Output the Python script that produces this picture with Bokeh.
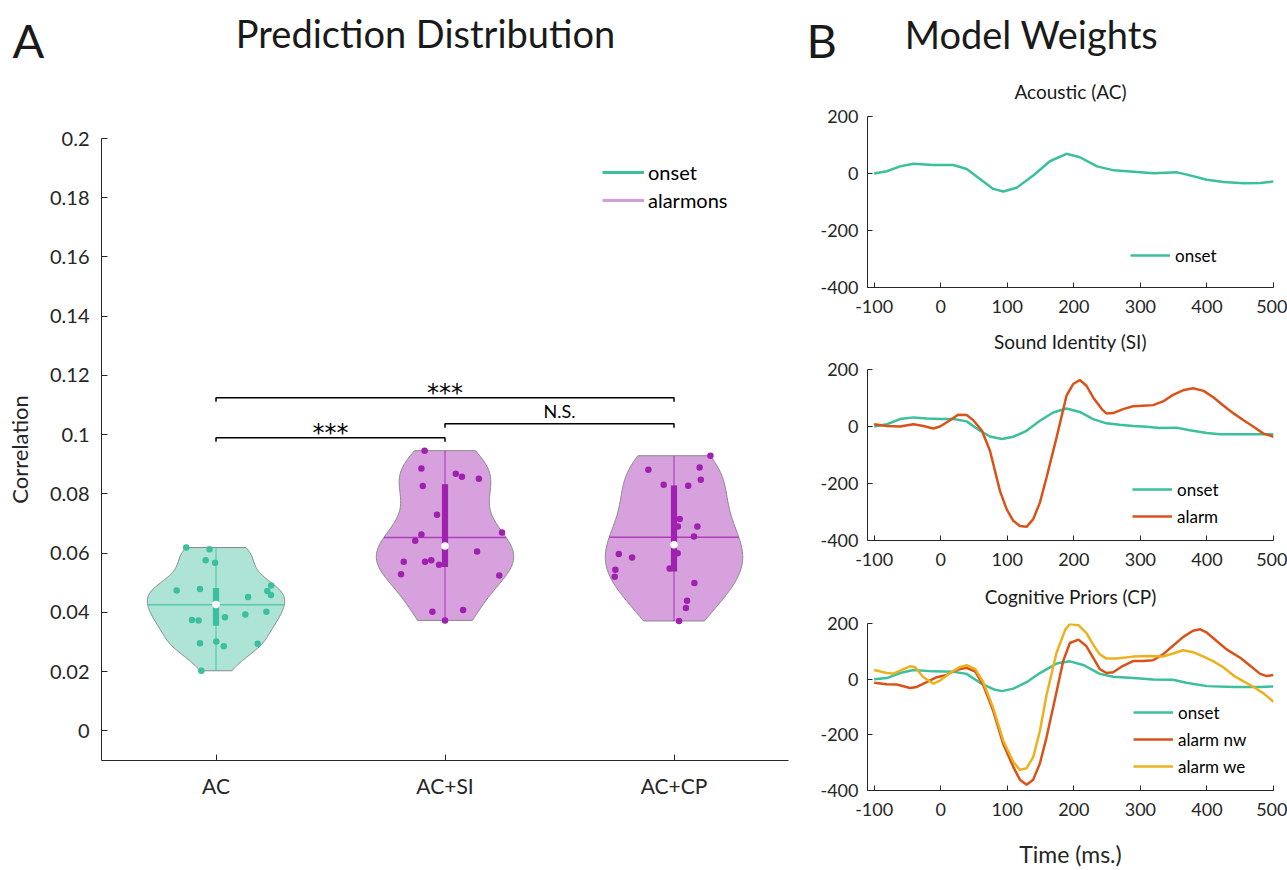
import numpy as np
from bokeh.plotting import figure
from bokeh.models import (Legend, LegendItem, FixedTicker, Range1d)
from bokeh.layouts import row, column
from bokeh.embed import file_html
from bokeh.resources import INLINE
from bokeh.core.properties import value

FONT = "Lato"
AXC = "#262626"
TXT = "#1a1a1a"
TEAL = "#3bbf9d"
PURPLE = "#a020b0"
LIGHT_PURPLE = "#d49ddc"
ORANGE = "#d95319"
YELLOW = "#edb120"

# ---------------- Panel A data ----------------
categories = ["AC", "AC+SI", "AC+CP"]
corr_ac = [0.0619, 0.0613, 0.0576, 0.0568, 0.0474, 0.0479, 0.0491, 0.0472, 0.0459, 0.0452,
           0.0402, 0.0393, 0.0384, 0.0374, 0.0373, 0.0296, 0.0302, 0.0286, 0.0294, 0.0203]
jit_ac = [-0.130, -0.028, -0.045, -0.004, -0.172, -0.070, 0.241, 0.224, 0.240, 0.140,
          0.220, 0.128, 0.039, -0.105, -0.076, -0.070, 0.001, 0.034, 0.182, -0.064]
corr_si = [0.0946, 0.0886, 0.0868, 0.0858, 0.0851, 0.0827, 0.0730, 0.0670, 0.0663, 0.0642,
           0.0606, 0.0571, 0.0571, 0.0576, 0.0561, 0.0529, 0.0525, 0.0402, 0.0408, 0.0373]
jit_si = [-0.089, -0.103, 0.047, 0.074, 0.148, -0.097, -0.035, 0.249, -0.103, -0.130,
          0.140, -0.180, -0.087, -0.060, -0.026, -0.192, 0.237, -0.055, 0.079, 0.000]
corr_cp = [0.0929, 0.0882, 0.0889, 0.0848, 0.0831, 0.0828, 0.0715, 0.0690, 0.0690, 0.0656,
           0.0597, 0.0585, 0.0600, 0.0544, 0.0520, 0.0548, 0.0499, 0.0439, 0.0415, 0.0371]
jit_cp = [0.159, -0.112, 0.112, 0.117, -0.045, 0.062, 0.025, 0.017, 0.102, 0.087,
          -0.241, -0.183, 0.016, -0.256, -0.259, -0.019, 0.089, 0.057, 0.052, 0.022]
violin_colors = [TEAL, PURPLE, PURPLE]

y_ticks = [0.0, 0.02, 0.04, 0.06, 0.08, 0.1, 0.12, 0.14, 0.16, 0.18, 0.2]
y_tick_labels = ["0", "0.02", "0.04", "0.06", "0.08", "0.1", "0.12", "0.14", "0.16", "0.18", "0.2"]

sig_from = [1, 2, 1]
sig_to = [2, 3, 3]
sig_level = [0.099, 0.1037, 0.1125]
sig_text = ["***", "N.S.", "***"]

legend_a_labels = ["onset", "alarmons"]
legend_a_colors = [TEAL, LIGHT_PURPLE]

# ---------------- Panel B data ----------------
panel_titles = ["Acoustic (AC)", "Sound Identity (SI)", "Cognitive Priors (CP)"]
time_ticks = [-100, 0, 100, 200, 300, 400, 500]
time_tick_labels = ["-100", "0", "100", "200", "300", "400", "500"]
w_ticks = [-400, -200, 0, 200]
w_tick_labels = ["-400", "-200", "0", "200"]

onset_ac_t = [-100, -81, -61, -41, -11, 19, 39, 59, 79, 94, 114, 139, 164, 189, 209, 235, 260,
              290, 320, 355, 370, 400, 425, 455, 480, 500]
onset_ac_w = [0, 8, 25, 34, 30, 30, 16, -19, -54, -63, -50, -7, 43, 69, 57, 25, 11, 6, 1, 4, -4,
              -22, -30, -34, -33, -28]

onset_si_t = [-100, -81, -61, -41, -21, -1, 19, 39, 59, 74, 92, 109, 129, 149, 169, 189, 209, 229,
              249, 269, 289, 309, 329, 354, 374, 400, 420, 450, 480, 500]
onset_si_w = [0, 8, 26, 32, 28, 26, 26, 18, -15, -35, -44, -36, -15, 20, 49, 63, 51, 26, 11, 6, 2,
              -1, -5, -4, -13, -23, -27, -27, -27, -27]
alarm_si_t = [-100, -81, -61, -41, -26, -11, -1, 14, 26, 39, 49, 62, 74, 89, 99, 109, 119, 129, 139,
              149, 159, 174, 189, 199, 209, 219, 229, 242, 249, 259, 274, 289, 304, 319, 334, 349,
              364, 379, 395, 410, 425, 440, 455, 470, 485, 500]
alarm_si_w = [8, 2, 0, 8, 2, -7, 0, 22, 41, 40, 22, -15, -85, -226, -290, -331, -349, -352, -325,
              -267, -179, -39, 108, 149, 163, 143, 102, 61, 46, 47, 61, 71, 73, 75, 88, 111, 127,
              134, 125, 102, 73, 46, 22, -1, -25, -36]

onset_cp_t = [-100, -81, -61, -41, -11, 19, 39, 59, 79, 92, 109, 129, 149, 174, 194, 214, 239, 259,
              289, 319, 349, 369, 400, 440, 480, 500]
onset_cp_w = [0, 4, 22, 33, 28, 27, 19, -13, -36, -43, -34, -11, 22, 56, 64, 51, 19, 9, 4, -1, -2,
              -13, -25, -28, -28, -26]
alarm_nw_t = [-100, -81, -66, -46, -36, -21, -6, 9, 24, 39, 52, 64, 79, 94, 109, 119, 129, 139, 149,
              159, 174, 184, 194, 207, 219, 229, 239, 249, 259, 274, 289, 304, 319, 334, 349, 364,
              379, 390, 400, 415, 430, 450, 465, 480, 490, 500]
alarm_nw_w = [-13, -18, -19, -32, -28, -11, 7, 15, 34, 41, 27, -22, -115, -233, -315, -361, -379,
              -361, -303, -209, -46, 65, 130, 142, 118, 77, 36, 22, 25, 48, 65, 65, 68, 89, 120, 151,
              174, 179, 167, 136, 106, 77, 48, 19, 11, 15]
alarm_we_t = [-100, -81, -71, -56, -46, -39, -26, -11, -1, 14, 29, 39, 52, 64, 79, 94, 109, 119, 129,
              139, 149, 159, 174, 187, 194, 207, 219, 229, 239, 249, 264, 289, 314, 334, 349, 364,
              379, 395, 410, 425, 440, 455, 470, 485, 500]
alarm_we_w = [33, 22, 20, 36, 46, 44, 7, -16, -5, 22, 44, 50, 36, -11, -104, -221, -297, -326, -320,
              -280, -186, -57, 95, 177, 198, 194, 165, 124, 89, 74, 74, 81, 83, 81, 92, 104, 97, 81,
              64, 42, 13, -8, -28, -51, -81]


def style_axes(p, tick_size, label_size):
    for ax in (p.xaxis[0], p.yaxis[0]):
        ax.axis_line_color = AXC
        ax.axis_line_width = 1
        ax.major_tick_line_color = AXC
        ax.major_tick_in = 6
        ax.major_tick_out = 0
        ax.minor_tick_line_color = None
        ax.major_label_text_font = FONT
        ax.major_label_text_font_size = tick_size
        ax.major_label_text_color = AXC
        ax.axis_label_text_font = FONT
        ax.axis_label_text_font_size = label_size
        ax.axis_label_text_color = AXC
        ax.axis_label_text_font_style = "normal"
    p.xgrid.grid_line_color = None
    p.ygrid.grid_line_color = None
    p.outline_line_color = None


def text_strip(width, height):
    s = figure(width=width, height=height, x_range=Range1d(0, width),
               y_range=Range1d(height, 0), output_backend="svg", toolbar_location=None,
               x_axis_location=None, y_axis_location=None, min_border=0, title=None)
    s.outline_line_color = None
    s.xgrid.grid_line_color = None
    s.ygrid.grid_line_color = None
    return s


def kde(data, grid):
    d = np.asarray(data, dtype=float)
    n = len(d)
    sig = np.median(np.abs(d - np.median(d))) / 0.6745
    bw = sig * (4.0 / (3.0 * n)) ** 0.2
    u = (grid[:, None] - d[None, :]) / bw
    return np.exp(-0.5 * u ** 2).sum(axis=1) / (n * bw * np.sqrt(2 * np.pi))


# ---------------- Header (panel letters and main titles) ----------------
HEAD_H = 72
head = text_strip(1287, HEAD_H)
head.text(x=[12, 806], y=[39, 39], text=["A", "B"], text_font=value(FONT),
          text_font_size="47px", text_color=TXT, text_baseline="middle")
head.text(x=[425, 1031], y=[32, 33], text=["Prediction Distribution", "Model Weights"],
          text_font=value(FONT), text_font_size="38px", text_color=TXT,
          text_baseline="middle", text_align="center")

# ---------------- Panel A figure ----------------
pa = figure(width=800, height=870 - HEAD_H, x_range=Range1d(0.5, 3.5),
            y_range=Range1d(-0.01, 0.2), output_backend="svg", toolbar_location=None,
            min_border_left=101, min_border_right=12, min_border_top=138 - HEAD_H,
            min_border_bottom=110)
style_axes(pa, "20px", "22px")
pa.xaxis.ticker = FixedTicker(ticks=[1, 2, 3])
pa.xaxis.major_label_overrides = {i + 1: c for i, c in enumerate(categories)}
pa.xaxis.major_label_text_font_size = "21px"
pa.xaxis.major_label_standoff = 12
pa.yaxis.ticker = FixedTicker(ticks=y_ticks)
pa.yaxis.major_label_overrides = dict(zip(y_ticks, y_tick_labels))
pa.yaxis.major_label_standoff = 12
pa.yaxis.axis_label = "Correlation"
pa.yaxis.axis_label_standoff = 14

for i, (vals, jit, col) in enumerate(zip([corr_ac, corr_si, corr_cp],
                                         [jit_ac, jit_si, jit_cp], violin_colors)):
    xc = i + 1
    v = np.asarray(vals)
    grid = np.linspace(v.min(), v.max(), 120)
    dens = kde(v, grid)
    hw = dens / dens.max() * 0.3
    xs = np.concatenate([xc - hw, (xc + hw)[::-1]])
    ys = np.concatenate([grid, grid[::-1]])
    pa.patch(xs, ys, fill_color=col, fill_alpha=0.42, line_color="#888888", line_width=1)
    mean = v.mean()
    hwm = np.interp(mean, grid, hw)
    pa.segment(x0=[xc - hwm], y0=[mean], x1=[xc + hwm], y1=[mean], line_color=col,
               line_alpha=0.75, line_width=1.5)
    pa.scatter(xc + np.asarray(jit), v, size=6.5, fill_color=col, line_color=None)
    pa.segment(x0=[xc], y0=[v.min()], x1=[xc], y1=[v.max()], line_color=col, line_alpha=0.6,
               line_width=1.5)
    q1, q3 = np.percentile(v, [25, 75])
    pa.vbar(x=[xc], bottom=[q1], top=[q3], width=0.027, fill_color=col, line_color=None)
    pa.scatter([xc], [np.median(v)], size=7.5, fill_color="white", line_color=None)

PX = 0.21 / 622.0  # data units per pixel on the correlation axis
for a, b, lvl, txt in zip(sig_from, sig_to, sig_level, sig_text):
    pa.line([a, a, b, b], [lvl - 4 * PX, lvl, lvl, lvl - 4 * PX], line_color="black",
            line_width=1.5)
    if txt == "***":
        pa.text(x=[(a + b) / 2], y=[lvl + 5 * PX], text=[txt], text_align="center",
                text_baseline="middle", text_font=value("DejaVu Sans"),
                text_font_size="24px", text_color="black")
    else:
        pa.text(x=[(a + b) / 2], y=[lvl + 13 * PX], text=[txt], text_align="center",
                text_baseline="middle", text_font=value(FONT),
                text_font_size="18px", text_color="black")

leg_items = []
for lab, col in zip(legend_a_labels, legend_a_colors):
    r = pa.line([np.nan], [np.nan], line_color=col, line_width=3)
    leg_items.append(LegendItem(label=lab, renderers=[r]))
lega = Legend(items=leg_items, location=(501, 548), padding=0, margin=0, spacing=4,
              glyph_width=42, glyph_height=22, label_height=22, label_standoff=4,
              label_text_font=FONT, label_text_font_size="20px", label_text_color="black",
              border_line_color=None, background_fill_alpha=0)
pa.add_layout(lega, "center")


# ---------------- Panel B figures ----------------
RW = 487
# the column aligns the strip's frame with the axes frames (67 .. 473 px),
# so the centre of those frames (270 px) is at this strip data x:
TITLE_X = (270 - 67) / (473 - 67) * RW


def title_strip(height, yc, title):
    s = text_strip(RW, height)
    s.text(x=[TITLE_X], y=[yc], text=[title], text_font=value(FONT), text_font_size="19px",
           text_color=TXT, text_baseline="middle", text_align="center")
    return s


def weights_fig(height, top, bottom):
    p = figure(width=RW, height=height, x_range=Range1d(-110, 500), y_range=Range1d(-400, 200),
               output_backend="svg", toolbar_location=None,
               min_border_left=67, min_border_right=14, min_border_top=top,
               min_border_bottom=bottom)
    style_axes(p, "18px", "23px")
    p.xaxis.ticker = FixedTicker(ticks=time_ticks)
    p.xaxis.major_label_overrides = dict(zip(time_ticks, time_tick_labels))
    p.yaxis.ticker = FixedTicker(ticks=w_ticks)
    p.yaxis.major_label_overrides = dict(zip(w_ticks, w_tick_labels))
    p.xaxis.major_label_standoff = 12
    p.yaxis.major_label_standoff = 9
    p.xaxis.major_tick_in = 5
    p.yaxis.major_tick_in = 5
    return p


def add_legend(p, renderers, labels, loc):
    items = [LegendItem(label=l, renderers=[r]) for l, r in zip(labels, renderers)]
    lg = Legend(items=items, location=loc, padding=0, margin=0, spacing=5,
                glyph_width=40, glyph_height=22, label_height=22, label_standoff=5,
                label_text_font=FONT, label_text_font_size="17px", label_text_color="black",
                border_line_color=None, background_fill_alpha=0)
    p.add_layout(lg, "center")


s1 = title_strip(104 - HEAD_H, 91 - HEAD_H, panel_titles[0])
p1 = weights_fig(217, 12, 34)
r = p1.line(onset_ac_t, onset_ac_w, line_color=TEAL, line_width=2.5)
add_legend(p1, [r], ["onset"], (263, 21))

s2 = title_strip(34, 20, panel_titles[1])
p2 = weights_fig(219, 14, 34)
r1 = p2.line(onset_si_t, onset_si_w, line_color=TEAL, line_width=2.5)
r2 = p2.line(alarm_si_t, alarm_si_w, line_color=ORANGE, line_width=2.5)
add_legend(p2, [r1, r2], ["onset", "alarm"], (265, 13))

s3 = title_strip(36, 22, panel_titles[2])
p3 = weights_fig(260, 13, 76)
r1 = p3.line(onset_cp_t, onset_cp_w, line_color=TEAL, line_width=2.5)
r2 = p3.line(alarm_nw_t, alarm_nw_w, line_color=ORANGE, line_width=2.5)
r3 = p3.line(alarm_we_t, alarm_we_w, line_color=YELLOW, line_width=2.5)
add_legend(p3, [r1, r2, r3], ["onset", "alarm nw", "alarm we"], (266, 13))
p3.xaxis.axis_label = "Time (ms.)"
p3.xaxis.axis_label_standoff = 21

layout = column(head, row(pa, column(s1, p1, s2, p2, s3, p3)))
open("out.html", "w").write(file_html(layout, INLINE))
